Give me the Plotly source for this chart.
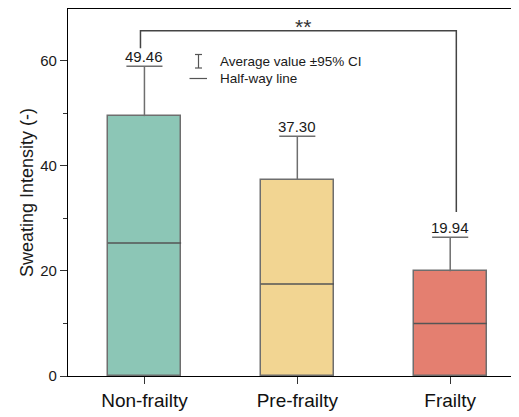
import plotly.graph_objects as go

categories = ["Non-frailty", "Pre-frailty", "Frailty"]
means = [49.46, 37.30, 19.94]
ci_upper = [9.5, 8.35, 6.45]
halfway = [25.3, 17.5, 10.0]
colors = ["#8CC6B6", "#F2D592", "#E47F70"]
yticks = [0, 20, 40, 60]
bracket_x = [-0.026, 2.04]
bracket_y = [62.4, 65.7, 31.2]
sig_text = "**"
legend_labels = ["Average value ±95% CI", "Half-way line"]

FONT = "Liberation Sans, Arial, sans-serif"
EDGE = "#6e6e6e"
x = list(range(len(categories)))
bw = 0.48
cap = 0.118

# page body has an 8px default margin; figure is sized to fit the 519x417 window
W, H = 511, 409
ML, MR, MT, MB = 60, 0, 1, 41
PW, PH = W - ML - MR, H - MT - MB

fig = go.Figure()
fig.add_trace(go.Bar(
    x=x, y=means, width=bw,
    marker=dict(color=colors, line=dict(color=EDGE, width=1.5)),
    showlegend=False,
))

shapes = []
for xi, m, c, h in zip(x, means, ci_upper, halfway):
    shapes.append(dict(type="line", xref="x", yref="y",
                       x0=xi - bw / 2, x1=xi + bw / 2, y0=h, y1=h,
                       line=dict(color="#555555", width=1.5)))
    shapes.append(dict(type="line", xref="x", yref="y", x0=xi, x1=xi,
                       y0=m, y1=m + c, line=dict(color=EDGE, width=1.5)))
    shapes.append(dict(type="line", xref="x", yref="y", x0=xi - cap, x1=xi + cap,
                       y0=m + c, y1=m + c, line=dict(color=EDGE, width=1.5)))

# significance bracket
shapes.append(dict(type="path", xref="x", yref="y",
                   path=f"M {bracket_x[0]} {bracket_y[0]} L {bracket_x[0]} {bracket_y[1]} "
                        f"L {bracket_x[1]} {bracket_y[1]} L {bracket_x[1]} {bracket_y[2]}",
                   line=dict(color="#444444", width=1.5)))

# custom legend (window px -> paper coords)
def px2x(p):
    return (p - 8 - ML) / PW

def py2y(p):
    return (8 + MT + PH - p) / PH

lg = "#555555"
ix = 198.5
shapes += [
    dict(type="line", xref="paper", yref="paper", x0=px2x(ix), x1=px2x(ix),
         y0=py2y(54.5), y1=py2y(68), line=dict(color=lg, width=1.2)),
    dict(type="line", xref="paper", yref="paper", x0=px2x(ix - 3.5), x1=px2x(ix + 3.5),
         y0=py2y(54.5), y1=py2y(54.5), line=dict(color=lg, width=1.2)),
    dict(type="line", xref="paper", yref="paper", x0=px2x(ix - 3.5), x1=px2x(ix + 3.5),
         y0=py2y(68), y1=py2y(68), line=dict(color=lg, width=1.2)),
    dict(type="line", xref="paper", yref="paper", x0=px2x(189.5), x1=px2x(207),
         y0=py2y(78.5), y1=py2y(78.5), line=dict(color=lg, width=1.2)),
]

annotations = []
for xi, m, c in zip(x, means, ci_upper):
    annotations.append(dict(x=xi, y=m + c, xref="x", yref="y", text=f"{m:.2f}",
                            showarrow=False, yanchor="bottom", yshift=-1,
                            font=dict(family=FONT, size=15, color="#1a1a1a")))
annotations.append(dict(x=(bracket_x[0] + bracket_x[1]) / 2 + 0.03, y=bracket_y[1],
                        xref="x", yref="y", text=sig_text, showarrow=False,
                        yanchor="bottom", yshift=-9,
                        font=dict(family=FONT, size=21, color="#333333")))
annotations.append(dict(x=px2x(218), y=py2y(61.5), xref="paper", yref="paper",
                        text=legend_labels[0], showarrow=False, xanchor="left",
                        yanchor="middle", font=dict(family=FONT, size=13.5, color="#1a1a1a")))
annotations.append(dict(x=px2x(218), y=py2y(78.5), xref="paper", yref="paper",
                        text=legend_labels[1], showarrow=False, xanchor="left",
                        yanchor="middle", font=dict(family=FONT, size=13.5, color="#1a1a1a")))

fig.update_layout(
    width=W, height=H,
    margin=dict(l=ML, r=MR, t=MT, b=MB, autoexpand=False),
    paper_bgcolor="white", plot_bgcolor="white",
    shapes=shapes, annotations=annotations,
    font=dict(family=FONT, color="#1a1a1a"),
    bargap=0,
)
fig.update_xaxes(
    range=[-0.5, 2.45], tickvals=x, ticktext=categories, automargin=False,
    showline=True, linecolor="black", linewidth=1.3, mirror=True,
    ticks="outside", ticklen=7, tickwidth=1.3, tickcolor="#333333",
    tickfont=dict(family=FONT, size=19, color="#111111"),
    showgrid=False, zeroline=False,
)
fig.update_yaxes(
    range=[0, 69.85], tickvals=yticks, automargin=False,
    showline=True, linecolor="black", linewidth=1.3,
    ticks="outside", ticklen=7, tickwidth=1.3, tickcolor="#333333",
    tickfont=dict(family=FONT, size=15, color="#1a1a1a"),
    minor=dict(ticks="outside", ticklen=4, tickwidth=1.3, tickcolor="#333333", dtick=10, showgrid=False),
    title=dict(text="Sweating Intensity (-)", font=dict(family=FONT, size=18, color="#1a1a1a"),
               standoff=1),
    showgrid=False, zeroline=False,
)

fig.write_html("out.html")
